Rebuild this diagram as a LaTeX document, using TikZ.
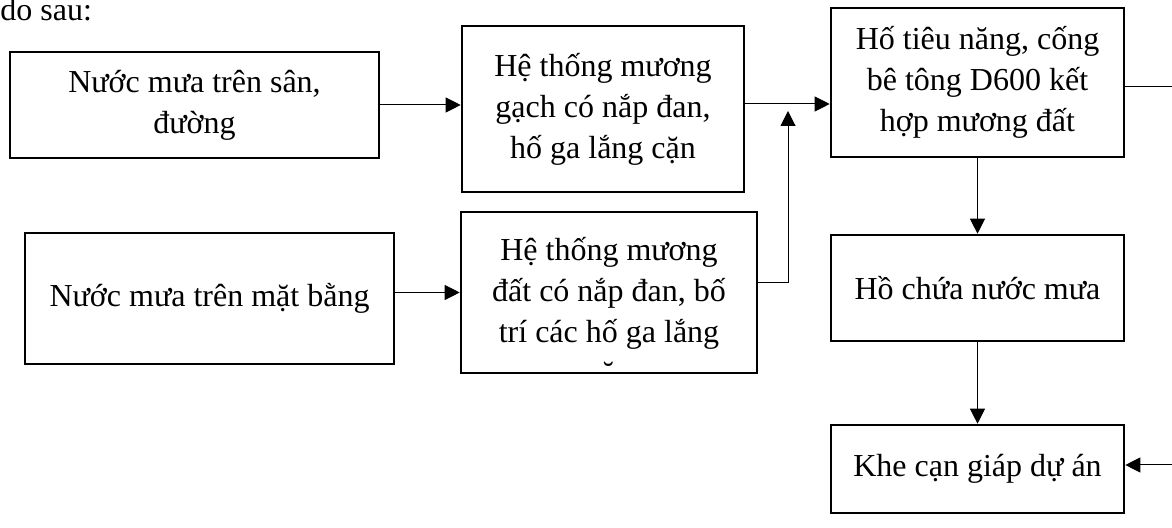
\documentclass[tikz,border=0pt]{standalone}
\usepackage{fontspec}
\setmainfont{Liberation Serif}
\usetikzlibrary{arrows.meta, positioning}

\tikzset{
    box/.style={draw, line width=1.3pt, align=center, inner sep=0pt,
        font=\fontsize{16}{20.5}\selectfont},
    boxtext/.style={align=center, inner sep=0pt,
        font=\fontsize{16}{20.5}\selectfont},
    flow/.style={-{Triangle[length=7.5pt, width=7.5pt]}, line width=0.5pt}
}

\begin{document}
\begin{tikzpicture}[x=0.5pt, y=-0.5pt]
\useasboundingbox (0,0) rectangle (1172,528);

% Lead-in line above the chart
\node (lead) [anchor=base west, inner sep=0pt,
    font=\fontsize{16}{20.5}\selectfont] at (0,21) {do sau:};

% Rain water sources
\node (san) [box,
    minimum width=184.5pt, minimum height=53pt] at (194.5,105)
    {Nước mưa trên sân,\\đường};

\node (matbang) [box,
    minimum width=184.5pt, minimum height=65.5pt] at (209.5,298.5)
    {Nước mưa trên mặt bằng};

% Drainage channels
\node (muonggach) [box,
    minimum width=141pt, minimum height=83pt] at (603,109)
    {Hệ thống mương\\gạch có nắp đan,\\hố ga lắng cặn};

\node (muongdat) [box,
    minimum width=148pt, minimum height=80.5pt] at (609,292.5) {};
% text runs past the bottom edge, so cut it off inside the frame
\begin{scope}
    \clip ([yshift=4pt]muongdat.south west) rectangle (muongdat.north east);
    \node [boxtext, anchor=base] at (609,384)
        {Hệ thống mương\\đất có nắp đan, bố\\trí các hố ga lắng\\cặn};
\end{scope}

% Collection and outlet
\node (hotieu) [box,
    minimum width=146.5pt, minimum height=74.5pt] at (977.5,82.5)
    {Hố tiêu năng, cống\\bê tông D600 kết\\hợp mương đất};

\node (hochua) [box,
    minimum width=146.5pt, minimum height=53pt] at (977.5,288)
    {Hồ chứa nước mưa};

\node (khecan) [box,
    minimum width=146.5pt, minimum height=44pt] at (977.5,469)
    {Khe cạn giáp dự án};

% Junctions and free ends
\coordinate (merge) at (788,104);
\coordinate (outtop) at (1172,87);
\coordinate (outbot) at (1172,465);

% Arrows
\draw [flow] (san.east) -- (san.east -| muonggach.west);
\draw [flow] (matbang.east |- muongdat.west) -- (muongdat.west);
\draw [flow] (merge -| muonggach.east) -- (merge -| hotieu.west);
\draw [flow, shorten >=3.5pt] ([yshift=4.75pt]muongdat.east) -| (merge);
\path [flow]
    (hotieu) edge (hochua)
    (hochua) edge (khecan);
\draw [line width=0.5pt] (outtop -| hotieu.east) -- (outtop);
\draw [flow] (outbot) -- (outbot -| khecan.east);
\end{tikzpicture}
\end{document}
